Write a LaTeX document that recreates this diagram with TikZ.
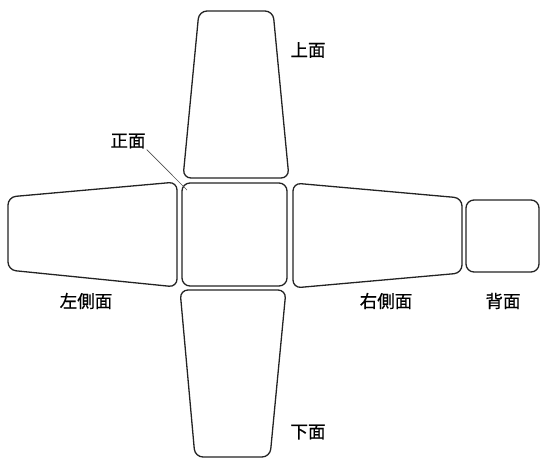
\documentclass[tikz,border=0pt]{standalone}
\usepackage{fontspec}
\newfontfamily\cjk[FakeBold=0.6]{Noto Sans CJK JP}
\usetikzlibrary{positioning}
\definecolor{facegray}{RGB}{35,35,35}
\definecolor{leadgray}{RGB}{80,80,80}

\begin{document}
\begin{tikzpicture}[
        x=1pt, y=-1pt,
        face/.style={draw=facegray, line width=1.3pt, rounded corners=8pt},
        lbl/.style={font=\cjk\fontsize{17.5}{20}\selectfont, inner sep=1pt},
        lead/.style={leadgray, line width=0.7pt}
    ]
    \useasboundingbox (0,0) rectangle (541,459);
    % faces of the box, unfolded
    \draw[face] (199,11) -- (273,11) -- (289,178) -- (183,178) -- cycle;
    \draw[face] (182,183) rectangle (287,286);
    \draw[face] (8,197) -- (177,182) -- (177,287) -- (8,270) -- cycle;
    \draw[face] (293,183) -- (462,198) -- (462,273) -- (293,288) -- cycle;
    \draw[face] (466,200) rectangle (539,272);
    \draw[face] (180,290) -- (286,290) -- (270,457) -- (195,457) -- cycle;
    % labels
    \node[lbl] (top) at (308,50) {上面};
    \node[lbl] (front) at (128,141) {正面};
    \node[lbl] (left) at (86,301) {左側面};
    \node[lbl] (right) at (386,301) {右側面};
    \node[lbl] (back) at (503,301) {背面};
    \node[lbl] (bottom) at (308,432) {下面};
    \coordinate (frontc) at (187,190);
    \draw[lead] (front.south east) -- (frontc);
\end{tikzpicture}
\end{document}
